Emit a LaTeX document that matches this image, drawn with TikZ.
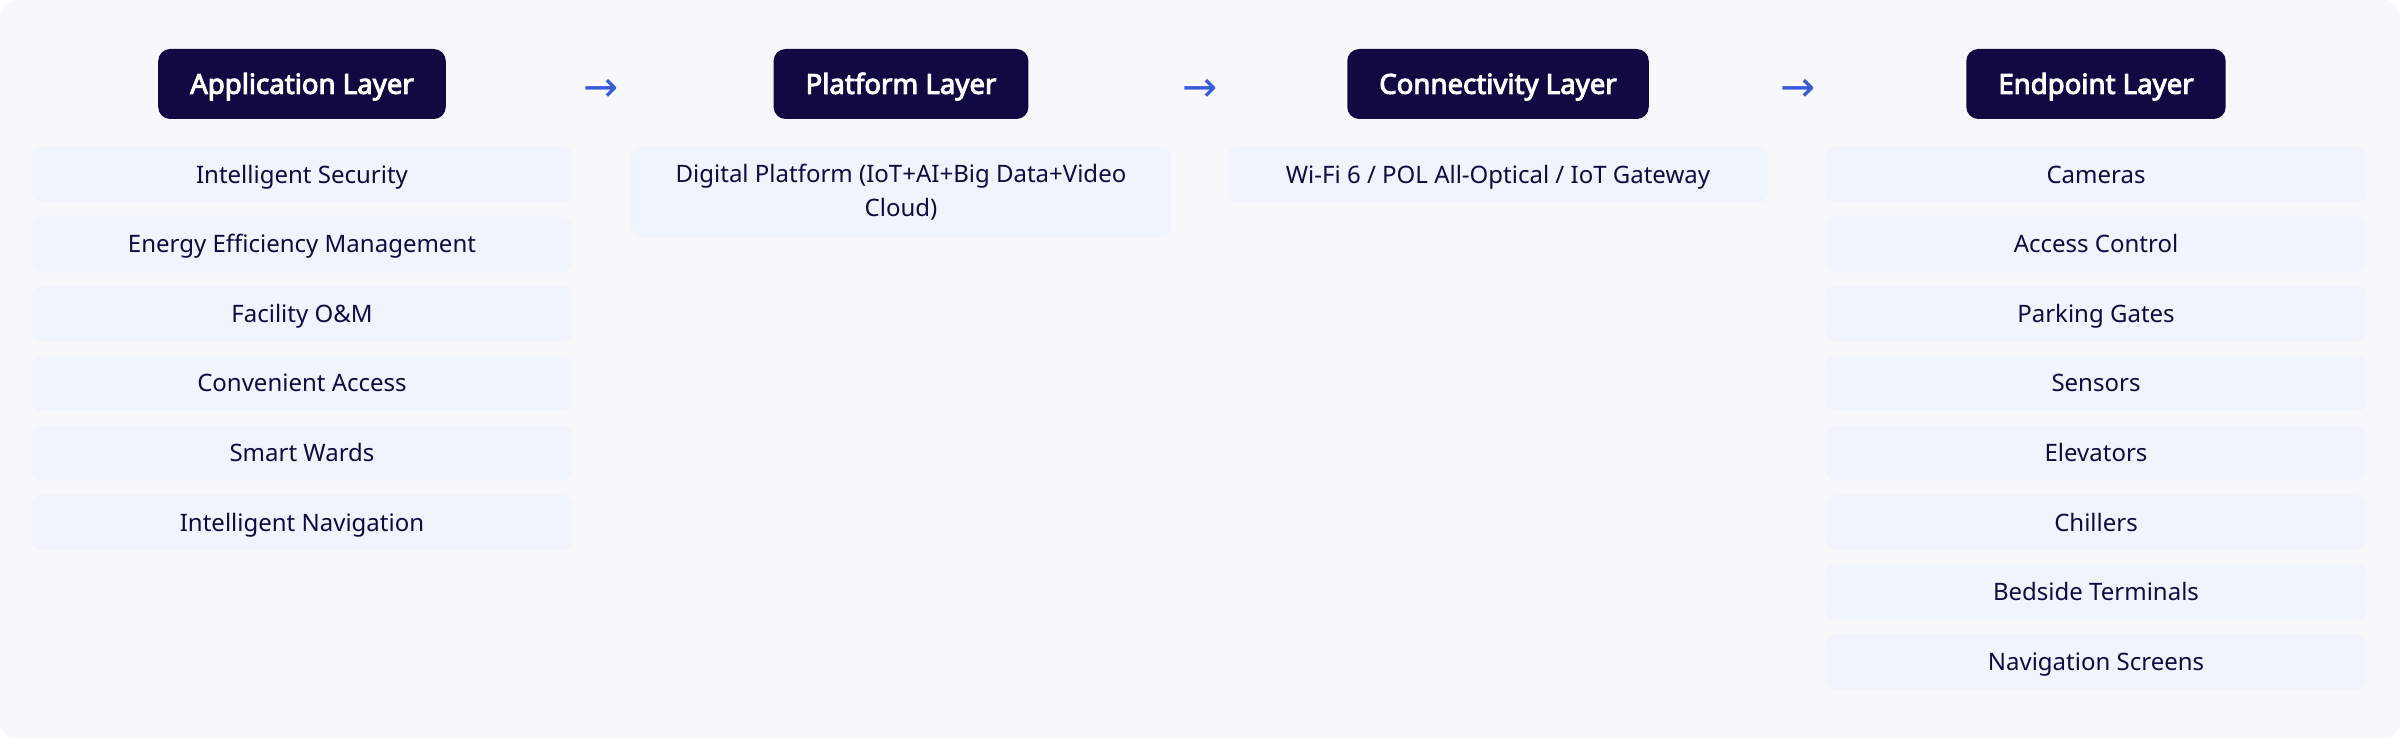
\documentclass[tikz,border=0pt]{standalone}
\usepackage{fontspec}
\setmainfont{Noto Sans}
\newfontfamily\headfont{Noto Sans}[FakeBold=3.5]
\newfontfamily\arrowfont{DejaVu Sans}
\definecolor{bgpanel}{HTML}{F7F8FB}
\definecolor{navy}{HTML}{0F0A42}
\definecolor{itemfill}{HTML}{EFF4FD}
\definecolor{arrowblue}{HTML}{3A5BD9}
\tikzset{
	layerhead/.style={fill=navy, text=white, rounded corners=6pt, minimum height=35pt, inner xsep=16pt, text height=10.8pt, text depth=1pt, font=\headfont\fontsize{13.8}{16}\selectfont},
	layeritem/.style={fill=itemfill, text=navy, rounded corners=4.5pt, minimum width=270pt, minimum height=27.5pt, inner sep=0pt, text height=10pt, text depth=1.4pt, font=\fontsize{12}{15}\selectfont},
	flowarrow/.style={text=arrowblue, inner sep=0pt, font=\arrowfont\fontsize{21}{21}\selectfont}
}
\begin{document}
\begin{tikzpicture}[x=0.5pt,y=-0.5pt]
	\useasboundingbox (0,0) rectangle (2400,738);
	\fill[white] (0,0) rectangle (2400,738);
	\fill[bgpanel, rounded corners=8pt] (0,0) rectangle (2400,738);% Panel
	
	% Layer headers
	\node[layerhead] (HeadApp)  at (302,84)  {Application Layer};
	\node[layerhead] (HeadPlat) at (901,84)  {Platform Layer};
	\node[layerhead] (HeadConn) at (1498,84) {Connectivity Layer};
	\node[layerhead] (HeadEnd)  at (2096,84) {Endpoint Layer};
	
	\node[flowarrow] (ArrA) at (601,90)  {→};
	\node[flowarrow] (ArrB) at (1200,90) {→};
	\node[flowarrow] (ArrC) at (1798,90) {→};
	
	% Application layer
	\node[layeritem] (AppA) at (302,174.5) {Intelligent Security};
	\node[layeritem] (AppB) at (302,244.1) {Energy Efficiency Management};
	\node[layeritem] (AppC) at (302,313.7) {Facility O\&M};
	\node[layeritem] (AppD) at (302,383.3) {Convenient Access};
	\node[layeritem] (AppE) at (302,452.9) {Smart Wards};
	\node[layeritem] (AppF) at (302,522.5) {Intelligent Navigation};
	
	% Platform layer
	\node[layeritem, minimum height=45pt, align=center, text height=, text depth=, font=\fontsize{12}{17}\selectfont] (PlatA) at (901,192) {Digital Platform (IoT+AI+Big Data+Video\\Cloud)};
	
	% Connectivity layer
	\node[layeritem] (ConnA) at (1498,174.5) {Wi-Fi 6 / POL All-Optical / IoT Gateway};
	
	% Endpoint layer
	\node[layeritem] (EndA) at (2096,174.5) {Cameras};
	\node[layeritem] (EndB) at (2096,244.1) {Access Control};
	\node[layeritem] (EndC) at (2096,313.7) {Parking Gates};
	\node[layeritem] (EndD) at (2096,383.3) {Sensors};
	\node[layeritem] (EndE) at (2096,452.9) {Elevators};
	\node[layeritem] (EndF) at (2096,522.5) {Chillers};
	\node[layeritem] (EndG) at (2096,592.1) {Bedside Terminals};
	\node[layeritem] (EndH) at (2096,661.7) {Navigation Screens};
	
\end{tikzpicture}
\end{document}
